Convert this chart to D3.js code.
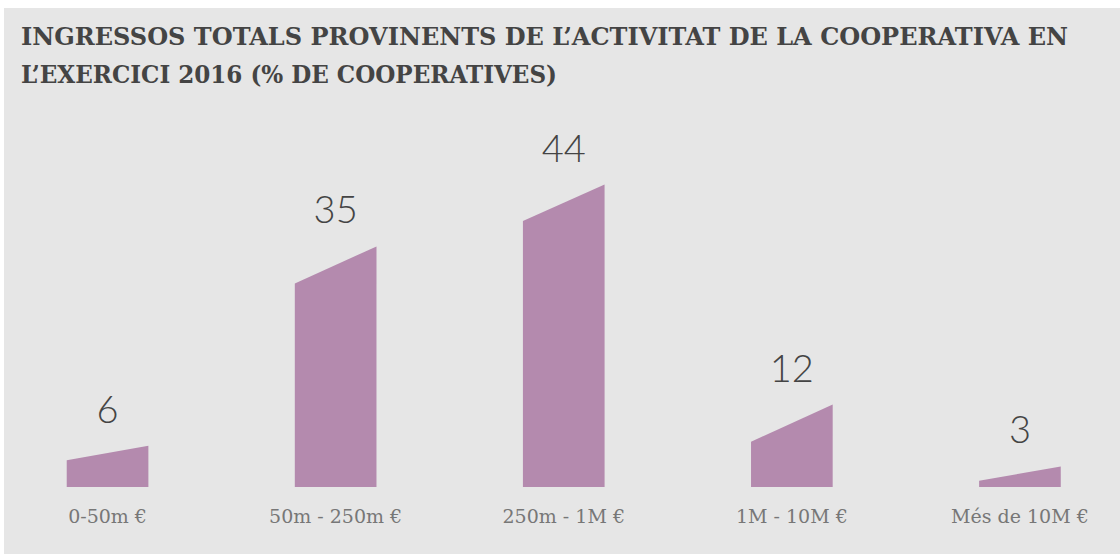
<!DOCTYPE html>
<html>
<head>
<meta charset="utf-8">
<script src="https://cdn.jsdelivr.net/npm/d3@7"></script>
<style>
  html, body { margin: 0; padding: 0; background: #fff; }
  svg { display: block; }
</style>
</head>
<body>
<div id="chart"></div>
<script>
const width = 1120;
const height = 554;

// data
const categories = ["0-50m €", "50m - 250m €", "250m - 1M €", "1M - 10M €", "Més de 10M €"];
const values = [6, 35, 44, 12, 3];
// height of the lower (left) edge of each slanted bar, same units
const leftValues = [3.9, 29.6, 38.7, 6.6, 0.9];
const titleLines = [
  "INGRESSOS TOTALS PROVINENTS DE L’ACTIVITAT DE LA COOPERATIVA EN",
  "L’EXERCICI 2016 (% DE COOPERATIVES)"
];

const svg = d3.select("#chart")
  .append("svg")
  .attr("width", width)
  .attr("height", height);

svg.append("rect")
  .attr("x", 4).attr("y", 8)
  .attr("width", width - 4).attr("height", height - 8)
  .attr("fill", "#e6e6e6");

// title lines stretched to the widths they take in the original
const titleWidths = [1047, 536];
svg.append("g")
  .selectAll("text")
  .data(titleLines)
  .join("text")
  .attr("x", 21)
  .attr("y", (d, i) => 45 + i * 38)
  .attr("fill", "#444")
  .attr("textLength", (d, i) => titleWidths[i])
  .attr("lengthAdjust", "spacingAndGlyphs")
  .style("font-family", "'DejaVu Serif'")
  .style("font-weight", "bold")
  .style("font-size", "24px")
  .text(d => d);

const x = d3.scaleBand()
  .domain(categories)
  .range([-6.5, 1134])
  .paddingInner(0.642)
  .paddingOuter(0.321);

const y = d3.scaleLinear()
  .domain([0, 44])
  .range([487, 184.5]);

svg.append("g")
  .selectAll("path")
  .data(categories)
  .join("path")
  .attr("fill", "#b48aae")
  .attr("d", (d, i) => {
    const x0 = x(d), x1 = x(d) + x.bandwidth();
    return `M${x0},${y(0)}L${x0},${y(leftValues[i])}L${x1},${y(values[i])}L${x1},${y(0)}Z`;
  });

svg.append("g")
  .selectAll("text")
  .data(categories)
  .join("text")
  .attr("x", d => x(d) + x.bandwidth() / 2)
  .attr("y", (d, i) => y(values[i]) - 23)
  .attr("text-anchor", "middle")
  .attr("fill", "#444")
  .style("font-family", "Lato")
  .style("font-weight", 300)
  .style("font-size", "38px")
  .text((d, i) => values[i]);

svg.append("g")
  .selectAll("text")
  .data(categories)
  .join("text")
  .attr("x", d => x(d) + x.bandwidth() / 2)
  .attr("y", 523)
  .attr("text-anchor", "middle")
  .attr("fill", "#777")
  .style("font-family", "'DejaVu Serif'")
  .style("font-size", "19px")
  .text(d => d);
</script>
</body>
</html>
